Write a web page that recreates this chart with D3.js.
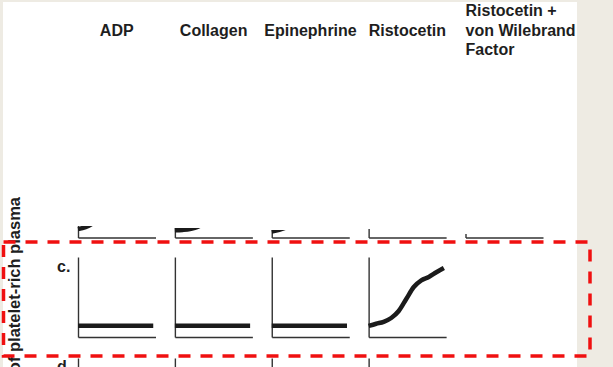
<!DOCTYPE html>
<meta charset="utf-8">
<style>
body { margin: 0; background: #eeebe3; }
svg { display: block; }
text {
  font-family: "Liberation Sans", Arial, Helvetica, sans-serif;
  font-weight: bold;
  fill: #1e1e1e;
}
.axis path { stroke: #333; stroke-width: 1.4px; }
.trace { fill: none; stroke: #1b1b1b; stroke-linecap: butt; stroke-linejoin: round; }
</style>
<svg width="613" height="367"></svg>
<script src="https://cdnjs.cloudflare.com/ajax/libs/d3/7.8.5/d3.min.js"></script>
<script>

// agonists (column titles)
var agonists = ["ADP", "Collagen", "Epinephrine", "Ristocetin", "Ristocetin + von Wilebrand Factor"];
var titleLines = [["ADP"], ["Collagen"], ["Epinephrine"], ["Ristocetin"], ["Ristocetin +", "von Wilebrand", "Factor"]];

// time points (min) of each trace
var times = [0, 1, 2, 3, 4, 5, 6, 7, 8, 9, 10];

// row b: % light transmission (only the lower part is visible)
var rowB = [
  [10.5, 13, 18, 27, 40, 55, 67, 75, 80, 82, 83],
  [9, 9.5, 10.5, 13, 20, 35, 52, 65, 72, 76, 78],
  [7.5, 9.5, 13, 18, 25, 33, 40, 45, 48, 50, 51],
  [14, 13.5, 13, 12.5, 12.5, 13, 14.5, 17, 20, 22, 23],
  [25, 30, 38, 48, 58, 66, 72, 76, 79, 81, 82]
];

// row c: % light transmission
var rowC = [
  [14, 14, 14, 14, 14, 14, 14, 14, 14, 14, 14],
  [14, 14, 14, 14, 14, 14, 14, 14, 14, 14, 14],
  [14, 14, 14, 14, 14, 14, 14, 14, 14, 14, 14],
  [13.8, 16.6, 19, 23.8, 32.5, 47.5, 62.5, 70.9, 75, 80.9, 86.3],
  null
];

var svg = d3.select("svg"),
    width = +svg.attr("width"),
    height = +svg.attr("height");

// slide panel
svg.append("rect")
    .attr("x", 3).attr("y", 2)
    .attr("width", 574).attr("height", height)
    .attr("fill", "#fff");

var panel = d3.scaleBand()
    .domain(agonists)
    .range([78, 543])
    .paddingInner(0.2)
    .paddingOuter(0)
    .align(0);

var x = d3.scaleLinear().domain([0, 10.3]).range([0, panel.bandwidth()]);

var yB = d3.scaleLinear().domain([0, 100]).range([237.5, 157.5]);
var yC = d3.scaleLinear().domain([0, 100]).range([337, 257]);
var yD = d3.scaleLinear().domain([0, 100]).range([440, 358]);

// column titles
var titles = svg.append("g");
titleLines.forEach(function(lines, i) {
  var multi = lines.length > 1;
  var tx = multi ? panel(agonists[i]) : panel(agonists[i]) + panel.bandwidth() / 2;
  var t = titles.append("text")
      .style("font-size", "16px")
      .attr("text-anchor", multi ? "start" : "middle")
      .attr("x", tx)
      .attr("y", multi ? 16 : 36);
  lines.forEach(function(s, j) {
    t.append("tspan")
        .attr("x", tx)
        .attr("dy", j ? 19.5 : 0)
        .text(s);
  });
});

// y label
svg.append("text")
    .attr("transform", "translate(19.5,197) rotate(-90)")
    .attr("text-anchor", "end")
    .style("font-size", "16.5px")
    .text("of platelet-rich plasma");

// row b, faded out above
var clipTops = [226, 228, 230, 229, 234];
var lineB = d3.line()
    .x(function(d, i) { return x(times[i]); })
    .y(function(d) { return yB(d); })
    .curve(d3.curveMonotoneX);

agonists.forEach(function(a, i) {
  svg.append("clipPath").attr("id", "cb" + i)
    .append("rect")
      .attr("x", -5).attr("y", clipTops[i])
      .attr("width", panel.bandwidth() + 10).attr("height", 20);

  var g = svg.append("g")
      .attr("transform", "translate(" + panel(a) + ",0)")
      .attr("clip-path", "url(#cb" + i + ")");

  g.append("g").attr("class", "axis")
      .call(d3.axisLeft(yB).ticks(0).tickSizeOuter(0));
  g.append("g").attr("class", "axis")
      .attr("transform", "translate(0," + yB(0) + ")")
      .call(d3.axisBottom(x).ticks(0).tickSizeOuter(0));
  g.append("path").attr("class", "trace")
      .attr("stroke-width", i == 3 ? 1.5 : 4.5)
      .attr("d", lineB(rowB[i]));
});

// row c
svg.append("text")
    .attr("x", 57).attr("y", 272)
    .style("font-size", "16px")
    .text("c.");

var lineC = d3.line()
    .x(function(d, i) { return x(times[i]); })
    .y(function(d) { return yC(d); })
    .curve(d3.curveMonotoneX);

agonists.forEach(function(a, i) {
  if (!rowC[i]) return;
  var g = svg.append("g")
      .attr("transform", "translate(" + panel(a) + ",0)");
  g.append("g").attr("class", "axis")
      .call(d3.axisLeft(yC).ticks(0).tickSizeOuter(0));
  g.append("g").attr("class", "axis")
      .attr("transform", "translate(0," + yC(0) + ")")
      .call(d3.axisBottom(x).ticks(0).tickSizeOuter(0));
  g.append("path").attr("class", "trace")
      .attr("stroke-width", 4.5)
      .attr("stroke-linecap", "round")
      .attr("d", lineC(rowC[i]));
});

// row d (cut off by the slide edge)
svg.append("text")
    .attr("x", 57).attr("y", 372)
    .style("font-size", "16px")
    .text("d.");

agonists.slice(0, 4).forEach(function(a) {
  svg.append("g").attr("class", "axis")
      .attr("transform", "translate(" + panel(a) + ",0)")
      .call(d3.axisLeft(yD).ticks(0).tickSizeOuter(0));
});

// highlight box
svg.append("rect")
    .attr("x", 3.5).attr("y", 242)
    .attr("width", 586.5).attr("height", 114)
    .attr("fill", "none")
    .attr("stroke", "#f01010")
    .attr("stroke-width", 3.5)
    .attr("stroke-dasharray", "12,10");

</script>
